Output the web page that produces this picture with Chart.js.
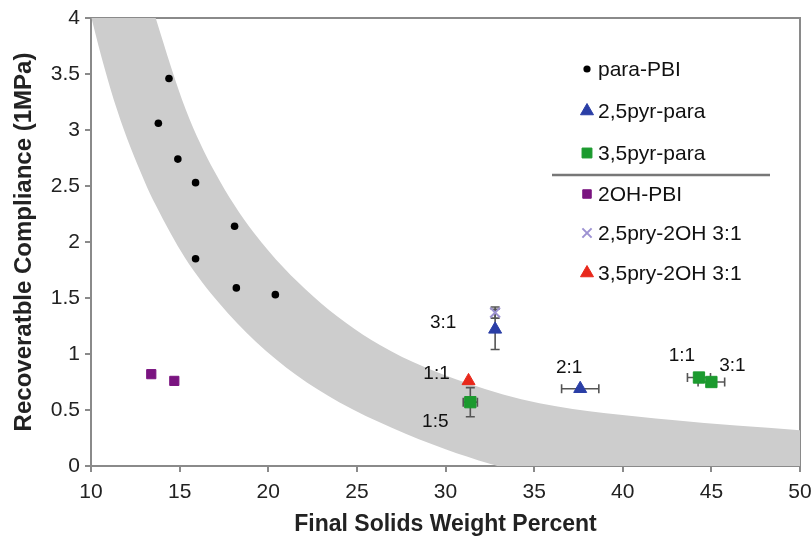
<!DOCTYPE html>
<html>
<head>
<meta charset="utf-8">
<title>Recoverable compliance vs final solids</title>
<script src="https://cdn.jsdelivr.net/npm/chart.js"></script>
<style>
  html, body { margin: 0; padding: 0; background: #fff; }
  #wrap { width: 812px; height: 538px; }
</style>
</head>
<body>
<div id="wrap"><canvas id="grafico" width="812" height="538"></canvas></div>
<script>
// axis ticks
const xTickValues = [10, 15, 20, 25, 30, 35, 40, 45, 50];
const yTickValues = [0, 0.5, 1, 1.5, 2, 2.5, 3, 3.5, 4];
const yTickLabels = ['0', '0.5', '1', '1.5', '2', '2.5', '3', '3.5', '4'];

// series
const paraPbiX = [14.4, 13.8, 14.9, 15.9, 18.1, 15.9, 18.2, 20.4];
const paraPbiY = [3.46, 3.06, 2.74, 2.53, 2.14, 1.85, 1.59, 1.53];

const pyr25ParaX = [32.8, 37.6];
const pyr25ParaY = [1.22, 0.69];
const pyr25ParaXErr = [0, 1.05];
const pyr25ParaYErr = [0.18, 0];

const pyr35ParaX = [31.4, 44.3, 45.0];
const pyr35ParaY = [0.57, 0.79, 0.75];
const pyr35ParaXErr = [0.4, 0.65, 0.75];
const pyr35ParaYErr = [0.13, 0, 0];

const oh2PbiX = [13.4, 14.7];
const oh2PbiY = [0.82, 0.76];

const pry25Oh2X = [32.8];
const pry25Oh2Y = [1.37];
const pry25Oh2YErr = [0.05];

const pry35Oh2X = [31.3];
const pry35Oh2Y = [0.76];

// ratio labels next to some points
const ratioTexts = ['3:1', '1:1', '1:5', '2:1', '1:1', '3:1'];
const ratioSeries = ['pyr25Para', 'pry35Oh2', 'pyr35Para', 'pyr25Para', 'pyr35Para', 'pyr35Para'];
const ratioIndex = [0, 0, 0, 1, 1, 2];

// gray trend band, upper and lower edges
const bandUpperX = [9.6, 13.0, 13.65, 15.35, 17.0, 19.2, 22.5, 26.3, 31.2, 35.3, 42.8, 50, 51];
const bandUpperY = [9.0, 4.35, 4.0, 3.18, 2.62, 2.08, 1.52, 1.08, 0.74, 0.56, 0.41, 0.32, 0.31];
const bandLowerX = [9.6, 10.06, 11.47, 13.0, 13.65, 15.3, 17.2, 19.3, 21.6, 24.0, 27.0, 30.0, 32.5, 35.0, 51];
const bandLowerY = [4.31, 3.98, 3.18, 2.55, 2.33, 1.86, 1.46, 1.11, 0.81, 0.57, 0.34, 0.15, 0.02, -0.09, -0.51];

function pts(xs, ys) {
  return xs.map((x, i) => ({ x: x, y: ys[i] }));
}

const AXIS_GRAY = '#8a8a8a';
const BAR_GRAY = '#555555';
const FONT = '"Liberation Sans", Arial, Helvetica, sans-serif';

const datasets = [
  { id: 'paraPbi', label: 'para-PBI', data: pts(paraPbiX, paraPbiY),
    pointStyle: 'circle', pointRadius: 3.8, backgroundColor: '#000', borderColor: '#000', borderWidth: 0, order: 0 },
  { id: 'pyr25Para', label: '2,5pyr-para', data: pts(pyr25ParaX, pyr25ParaY),
    xErr: pyr25ParaXErr, yErr: pyr25ParaYErr,
    pointStyle: 'triangle', pointRadius: 7.5, backgroundColor: '#2a3ea6', borderColor: '#2a3ea6', borderWidth: 1, order: 0 },
  { id: 'pyr35Para', label: '3,5pyr-para', data: pts(pyr35ParaX, pyr35ParaY),
    xErr: pyr35ParaXErr, yErr: pyr35ParaYErr,
    pointStyle: 'rect', pointRadius: 8, backgroundColor: '#1b9a2e', borderColor: '#1b9a2e', borderWidth: 1, order: 0 },
  { id: 'oh2Pbi', label: '2OH-PBI', data: pts(oh2PbiX, oh2PbiY),
    pointStyle: 'rect', pointRadius: 6.5, backgroundColor: '#7a1480', borderColor: '#7a1480', borderWidth: 1, order: 0 },
  { id: 'pry25Oh2', label: '2,5pry-2OH 3:1', data: pts(pry25Oh2X, pry25Oh2Y),
    yErr: pry25Oh2YErr,
    pointStyle: 'crossRot', pointRadius: 7, backgroundColor: '#9d92d2', borderColor: '#9d92d2', borderWidth: 2, order: 0 },
  { id: 'pry35Oh2', label: '3,5pry-2OH 3:1', data: pts(pry35Oh2X, pry35Oh2Y),
    pointStyle: 'triangle', pointRadius: 7.5, backgroundColor: '#e8281b', borderColor: '#e8281b', borderWidth: 1, order: 0 },
  { id: 'bandUpper', label: '', type: 'line', data: pts(bandUpperX, bandUpperY),
    fill: '+1', backgroundColor: '#cdcdcd', borderColor: 'rgba(0,0,0,0)', borderWidth: 0,
    pointRadius: 0, cubicInterpolationMode: 'monotone', order: 10 },
  { id: 'bandLower', label: '', type: 'line', data: pts(bandLowerX, bandLowerY),
    fill: false, borderColor: 'rgba(0,0,0,0)', borderWidth: 0,
    pointRadius: 0, cubicInterpolationMode: 'monotone', order: 10 }
];

// error bars sit on top of the band but under the markers
const errorBars = {
  id: 'errorBars',
  afterDatasetDraw(chart, args) {
    if (chart.data.datasets[args.index].id !== 'bandUpper') return;
    const ctx = chart.ctx;
    const xs = chart.scales.x, ys = chart.scales.y;
    const cap = 4.5;
    ctx.save();
    ctx.strokeStyle = BAR_GRAY;
    ctx.lineWidth = 1.6;
    chart.data.datasets.forEach((ds) => {
      ds.data.forEach((p, i) => {
        const px = xs.getPixelForValue(p.x);
        const py = ys.getPixelForValue(p.y);
        const ex = ds.xErr ? ds.xErr[i] : 0;
        const ey = ds.yErr ? ds.yErr[i] : 0;
        ctx.beginPath();
        if (ex) {
          const x1 = xs.getPixelForValue(p.x - ex);
          const x2 = xs.getPixelForValue(p.x + ex);
          ctx.moveTo(x1, py); ctx.lineTo(x2, py);
          ctx.moveTo(x1, py - cap); ctx.lineTo(x1, py + cap);
          ctx.moveTo(x2, py - cap); ctx.lineTo(x2, py + cap);
        }
        if (ey) {
          const y1 = ys.getPixelForValue(p.y - ey);
          const y2 = ys.getPixelForValue(p.y + ey);
          ctx.moveTo(px, y1); ctx.lineTo(px, y2);
          ctx.moveTo(px - cap, y1); ctx.lineTo(px + cap, y1);
          ctx.moveTo(px - cap, y2); ctx.lineTo(px + cap, y2);
        }
        ctx.stroke();
      });
    });
    ctx.restore();
  }
};

// top and right edges of the plot box
const frame = {
  id: 'frame',
  beforeDatasetsDraw(chart) {
    const { ctx, chartArea: a } = chart;
    ctx.save();
    ctx.strokeStyle = AXIS_GRAY;
    ctx.lineWidth = 2;
    ctx.beginPath();
    ctx.moveTo(a.left, a.top);
    ctx.lineTo(a.right, a.top);
    ctx.lineTo(a.right, a.bottom);
    ctx.stroke();
    ctx.restore();
  }
};

// ratio texts beside the points
const ratioOffsets = [[-52, -7], [-32, -7], [-35, 20], [-11, -21], [-17, -22], [21, -16]];
const ratioLabels = {
  id: 'ratioLabels',
  afterDatasetsDraw(chart) {
    const ctx = chart.ctx;
    ctx.save();
    ctx.font = '19px ' + FONT;
    ctx.fillStyle = '#111';
    ctx.textAlign = 'center';
    ctx.textBaseline = 'middle';
    ratioTexts.forEach((t, k) => {
      const ds = chart.data.datasets.find((d) => d.id === ratioSeries[k]);
      const p = ds.data[ratioIndex[k]];
      const px = chart.scales.x.getPixelForValue(p.x);
      const py = chart.scales.y.getPixelForValue(p.y);
      ctx.fillText(t, px + ratioOffsets[k][0], py + ratioOffsets[k][1]);
    });
    ctx.restore();
  }
};

// legend inside the plot, with a rule under the first three entries
const legendRows = [69, 111, 153, 194, 233, 273];
const legendMarkerSize = [3.6, 7.5, 7, 6, 6.5, 7.5];
const insideLegend = {
  id: 'insideLegend',
  afterDatasetsDraw(chart) {
    const ctx = chart.ctx;
    const draw = Chart.helpers && Chart.helpers.drawPoint;
    ctx.save();
    chart.data.datasets.slice(0, 6).forEach((ds, i) => {
      const y = legendRows[i];
      ctx.fillStyle = ds.backgroundColor;
      ctx.strokeStyle = ds.borderColor;
      ctx.lineWidth = ds.borderWidth || 1;
      if (draw) {
        draw(ctx, { pointStyle: ds.pointStyle, radius: legendMarkerSize[i], rotation: 0, borderWidth: ds.borderWidth }, 587, y);
      }
      ctx.fillStyle = '#111';
      ctx.font = '21px ' + FONT;
      ctx.textAlign = 'left';
      ctx.textBaseline = 'middle';
      ctx.fillText(ds.label, 598, y + 1);
    });
    ctx.strokeStyle = '#777';
    ctx.lineWidth = 2.5;
    ctx.beginPath();
    ctx.moveTo(552, 175);
    ctx.lineTo(770, 175);
    ctx.stroke();
    ctx.restore();
  }
};

const ctx = document.getElementById('grafico').getContext('2d');
const grafico = new Chart(ctx, {
  type: 'scatter',
  data: { datasets: datasets },
  options: {
    responsive: false,
    animation: false,
    layout: { padding: { top: 18, right: 12, left: 0, bottom: 0 } },
    plugins: {
      legend: { display: false },
      tooltip: { enabled: false }
    },
    scales: {
      x: {
        type: 'linear',
        min: 10,
        max: 50,
        afterBuildTicks: (s) => { s.ticks = xTickValues.map((v) => ({ value: v })); },
        afterFit: (s) => { s.height = 72; s.paddingLeft = 0; s.paddingRight = 0; },
        ticks: { font: { size: 21, family: FONT }, color: '#222', padding: 8,
          callback: (v) => String(v) },
        grid: { drawOnChartArea: false, tickLength: 6, color: AXIS_GRAY, lineWidth: 2 },
        border: { color: AXIS_GRAY, width: 2 },
        title: { display: true, text: 'Final Solids Weight Percent', color: '#222',
          font: { size: 23, weight: 'bold', family: FONT }, padding: { top: 0, bottom: 0 } }
      },
      y: {
        type: 'linear',
        min: 0,
        max: 4,
        afterBuildTicks: (s) => { s.ticks = yTickValues.map((v) => ({ value: v })); },
        afterFit: (s) => { s.width = 91; s.paddingTop = 0; s.paddingBottom = 0; },
        ticks: { font: { size: 21, family: FONT }, color: '#222', padding: 5,
          callback: (v) => yTickLabels[yTickValues.indexOf(v)] },
        grid: { drawOnChartArea: false, tickLength: 6, color: AXIS_GRAY, lineWidth: 2 },
        border: { color: AXIS_GRAY, width: 2 },
        title: { display: true, text: 'Recoveratble Compliance (1MPa)', color: '#222',
          font: { size: 24, weight: 'bold', family: FONT }, padding: { top: 10, bottom: 0 } }
      }
    }
  },
  plugins: [frame, errorBars, ratioLabels, insideLegend]
});
</script>
</body>
</html>
